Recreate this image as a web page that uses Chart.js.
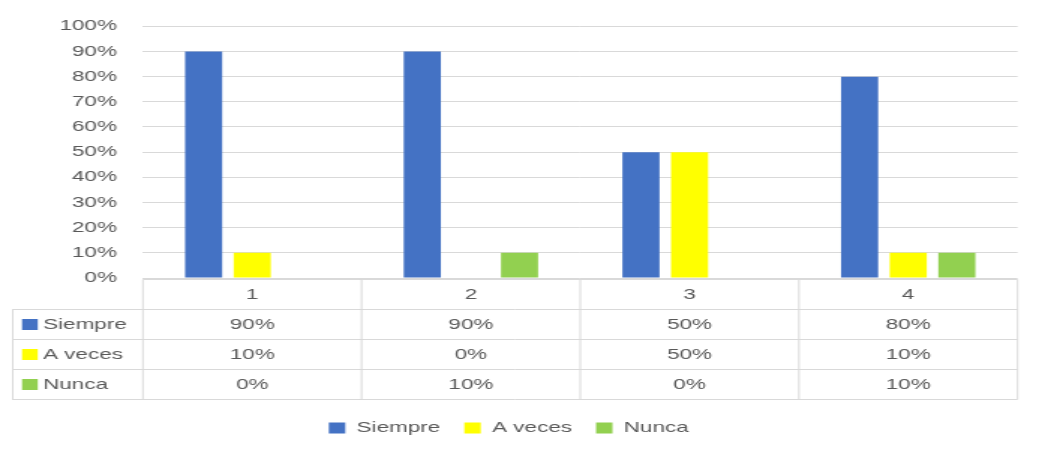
<!DOCTYPE html>
<html><head><meta charset="utf-8">
<script src="https://cdn.jsdelivr.net/npm/chart.js@4"></script>
<style>
html,body{margin:0;padding:0;background:#fff;overflow:hidden;}
#wrap{width:1039px;height:455px;overflow:hidden;background:#fff;}
#c{display:block;transform:scaleX(1.4993);transform-origin:0 0;}
</style></head><body>
<div id="wrap"><canvas id="c" width="693" height="455"></canvas></div>
<script>
const categories = ['1', '2', '3', '4'];
const seriesNames = ['Siempre', 'A veces', 'Nunca'];
const siempre = [90, 90, 50, 80];
const aVeces = [10, 0, 50, 10];
const nunca = [0, 10, 0, 10];
const seriesColors = ['#4472C4', '#FFFF00', '#92D050'];
const yMax = 100;
const yStep = 10;

const seriesValues = [siempre, aVeces, nunca];
const TEXT = '#595959';
const GRID = '#d9d9d9';
const FONT = '"Liberation Sans", Arial, sans-serif';

const tablePlugin = {
  id: 'dataTable',
  afterDraw(chart) {
    const ctx = chart.ctx;
    const area = chart.chartArea;
    const xs = chart.scales.x;
    const n = categories.length;
    const colW = (area.right - area.left) / n;
    const top = Math.round(area.bottom) + 1;
    const headH = 29.5, rowH = 30;
    const tableLeft = 8;
    ctx.save();
    ctx.strokeStyle = GRID;
    ctx.lineWidth = 1;
    const rowY = [top, top + headH];
    for (let r = 0; r < seriesNames.length; r++) rowY.push(top + headH + rowH * (r + 1));
    // horizontal lines
    rowY.forEach((y, i) => {
      ctx.beginPath();
      ctx.moveTo(i === 0 ? area.left : tableLeft, Math.round(y) + 0.5);
      ctx.lineTo(area.right, Math.round(y) + 0.5);
      ctx.stroke();
    });
    const bottom = Math.round(rowY[rowY.length - 1]) + 0.5;
    // vertical lines
    ctx.beginPath();
    ctx.moveTo(tableLeft + 0.5, Math.round(rowY[1]) + 0.5);
    ctx.lineTo(tableLeft + 0.5, bottom);
    ctx.stroke();
    for (let i = 0; i <= n; i++) {
      const x = area.left + colW * i;
      ctx.beginPath();
      ctx.moveTo(x, Math.round(top) + 0.5);
      ctx.lineTo(x, bottom);
      ctx.stroke();
    }
    // text
    ctx.fillStyle = TEXT;
    ctx.font = '15px ' + FONT;
    ctx.textAlign = 'center';
    ctx.textBaseline = 'middle';
    categories.forEach((c, i) => {
      ctx.fillText(c, xs.getPixelForValue(i), top + headH / 2 + 1);
    });
    seriesNames.forEach((name, r) => {
      const cy = top + headH + rowH * r + rowH / 2 + 1;
      ctx.fillStyle = seriesColors[r];
      ctx.fillRect(14.7, cy - 5.5, 10.5, 11);
      ctx.fillStyle = TEXT;
      ctx.textAlign = 'left';
      ctx.fillText(name, 28.7, cy);
      ctx.textAlign = 'center';
      seriesValues[r].forEach((v, i) => {
        ctx.fillText(v + '%', xs.getPixelForValue(i), cy);
      });
    });
    ctx.restore();
  }
};

new Chart(document.getElementById('c'), {
  type: 'bar',
  data: {
    labels: categories,
    datasets: seriesNames.map((name, i) => ({
      label: name,
      data: seriesValues[i],
      backgroundColor: seriesColors[i],
      borderWidth: 0,
      categoryPercentage: 0.667,
      barPercentage: 0.763
    }))
  },
  options: {
    responsive: false,
    animation: false,
    devicePixelRatio: 1,
    layout: { padding: { top: 25, right: 14.3, bottom: 9.5, left: 0 } },
    plugins: {
      tooltip: { enabled: false },
      legend: {
        position: 'bottom',
        labels: {
          boxWidth: 11,
          boxHeight: 11,
          padding: 16,
          color: TEXT,
          font: { size: 15, family: FONT }
        }
      }
    },
    scales: {
      x: {
        ticks: { display: false },
        grid: { display: false },
        border: { display: false },
        afterFit(scale) { scale.height = 126.5; }
      },
      y: {
        min: 0,
        max: yMax,
        ticks: {
          stepSize: yStep,
          padding: 17.3,
          color: TEXT,
          font: { size: 15, family: FONT },
          callback: v => v + '%'
        },
        grid: { color: GRID, drawTicks: false },
        border: { display: false },
        afterFit(scale) { scale.width = 95.3; }
      }
    }
  },
  plugins: [tablePlugin]
});
</script>
</body></html>
